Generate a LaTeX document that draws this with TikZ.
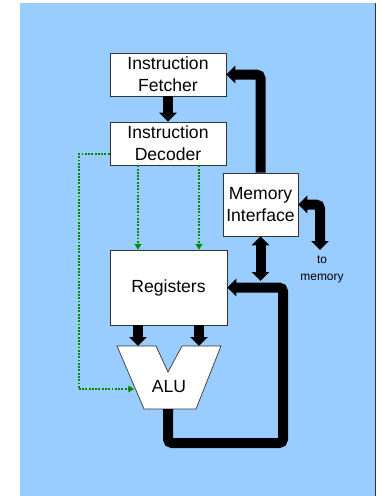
\documentclass[tikz,border=0pt]{standalone}
\usepackage{fontspec}
\setmainfont{Liberation Sans}
\usepackage{tikz}
\usetikzlibrary{arrows.meta,calc}
\definecolor{sky}{HTML}{99CCFF}
\definecolor{ctlgreen}{HTML}{008A00}
\tikzset{
  blk/.style={draw=black!80,fill=white,line width=0.6pt},
  unit/.style={blk,align=center,inner sep=0pt,font=\fontsize{15}{18.8}\selectfont},
  bus/.style={line width=0.3cm,rounded corners=0.12cm,->},
  dbus/.style={bus,<->},
  ctl/.style={ctlgreen,line width=1.6pt,dash pattern=on 1.6pt off 1.2pt,-{Triangle[length=0.17cm,width=0.2cm]}},
  small/.style={align=center,font=\fontsize{10.2}{14.5}\selectfont}
}

\begin{document}
\begin{tikzpicture}[x=0.03cm,y=-0.03cm,>={Triangle[length=0.27cm,width=0.52cm]}]
\useasboundingbox (0,0) rectangle (380,496);
\fill[sky] (20,3) rectangle (375,496); \draw[black!80,line width=0.8pt] (375,3) -- (375,496);
\node[unit,minimum width=3.48cm,minimum height=1.29cm] (fetcher) at (168,74.5) {Instruction\\Fetcher};
\node[unit,minimum width=3.48cm,minimum height=1.29cm] (decoder) at (168,143.5) {Instruction\\Decoder};
\node[unit,minimum width=2.25cm,minimum height=1.89cm] (meminf) at (260.5,204.5) {Memory\\Interface};
\node[unit,minimum width=3.51cm,minimum height=2.25cm] (regs) at (168.5,287.5) {Registers};
\draw[blk] (117,346) -- (156,346) -- (168,372) -- (182,346) -- (221,346) -- (196,409) -- (144,409) -- cycle;
\node[unit,draw=none,fill=none] (alu) at (169,387) {ALU};
\coordinate (aluinA) at (138,346); \coordinate (aluinB) at (199,346);
\coordinate (aluout) at (168,409); \coordinate (aluleft) at (134,389);
\coordinate (memport) at (320,250); \coordinate (busjoin) at (260.5,281); \coordinate (loop) at (283,443);
\node[small] (memlbl) at (322,269) {to\\memory};
\draw[bus] (fetcher) -- (decoder);
\draw[bus] (meminf.north) |- (fetcher.east);
\draw[dbus] (meminf.east) -| (memport);
\draw[dbus] (meminf.south) -- (busjoin);
\draw[bus] (aluout) |- (loop) |- (regs.east);
\draw[bus] (regs.south -| aluinA) -- (aluinA);
\draw[bus] (regs.south -| aluinB) -- (aluinB);
\draw[ctl] (decoder.south -| aluinA) -- (regs.north -| aluinA);
\draw[ctl] (decoder.south -| aluinB) -- (regs.north -| aluinB);
\draw[ctl] ($(decoder.south west)!0.25!(decoder.north west)$) -- ++(-31,0) |- (aluleft);
\end{tikzpicture}
\end{document}
